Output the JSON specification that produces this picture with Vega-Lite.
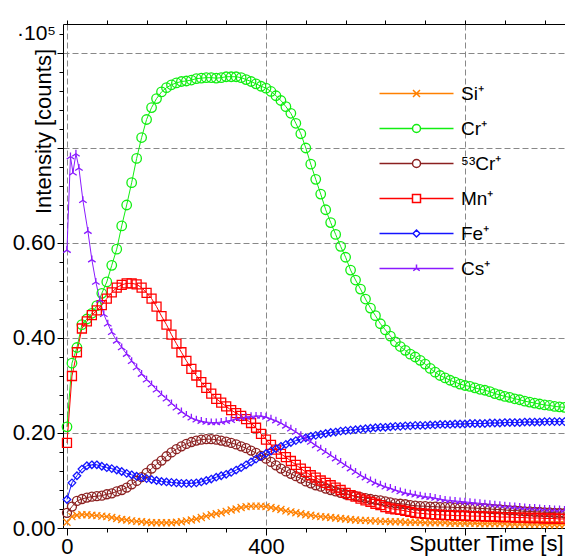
{
"$schema": "https://vega.github.io/schema/vega-lite/v6.json",
"width": 504, "height": 504,
"autosize": {"type": "none"},
"padding": {"left": 63, "top": 24, "right": 0, "bottom": 29},
"background": "white",
"title": {"text": "·10⁵", "anchor": "start", "frame": "group", "fontSize": 21, "fontWeight": "normal", "color": "black", "font": "Liberation Sans", "baseline": "alphabetic", "offset": 0, "dx": -46, "dy": 41},
"config": {
  "font": "Liberation Sans",
  "view": {"stroke": null},
  "axis": {"domainColor": "black", "tickColor": "black", "labelColor": "black", "titleColor": "black", "labelFontSize": 22, "titleFontSize": 22, "titleFontWeight": "normal", "labelFont": "Liberation Sans", "titleFont": "Liberation Sans", "gridColor": "#888888", "gridDash": [6, 3], "gridOpacity": 1, "gridWidth": 1, "domainWidth": 1, "tickWidth": 1, "labelFlush": false, "labelOverlap": false, "labelBound": false}
},
"data": {"values": [
{"s":"Si⁺","t":0,"v":0.012},{"s":"Si⁺","t":10,"v":0.024},{"s":"Si⁺","t":20,"v":0.027},{"s":"Si⁺","t":30,"v":0.028},{"s":"Si⁺","t":40,"v":0.028},{"s":"Si⁺","t":50,"v":0.027},{"s":"Si⁺","t":60,"v":0.026},{"s":"Si⁺","t":70,"v":0.025},{"s":"Si⁺","t":80,"v":0.024},{"s":"Si⁺","t":90,"v":0.022},
{"s":"Si⁺","t":100,"v":0.02},{"s":"Si⁺","t":110,"v":0.018},{"s":"Si⁺","t":120,"v":0.017},{"s":"Si⁺","t":130,"v":0.015},{"s":"Si⁺","t":140,"v":0.014},{"s":"Si⁺","t":150,"v":0.013},{"s":"Si⁺","t":160,"v":0.012},{"s":"Si⁺","t":170,"v":0.011},{"s":"Si⁺","t":180,"v":0.011},{"s":"Si⁺","t":190,"v":0.011},
{"s":"Si⁺","t":200,"v":0.011},{"s":"Si⁺","t":210,"v":0.011},{"s":"Si⁺","t":220,"v":0.012},{"s":"Si⁺","t":230,"v":0.013},{"s":"Si⁺","t":240,"v":0.015},{"s":"Si⁺","t":250,"v":0.017},{"s":"Si⁺","t":260,"v":0.019},{"s":"Si⁺","t":270,"v":0.022},{"s":"Si⁺","t":280,"v":0.025},{"s":"Si⁺","t":290,"v":0.028},
{"s":"Si⁺","t":300,"v":0.03},{"s":"Si⁺","t":310,"v":0.032},{"s":"Si⁺","t":320,"v":0.035},{"s":"Si⁺","t":330,"v":0.038},{"s":"Si⁺","t":340,"v":0.04},{"s":"Si⁺","t":350,"v":0.043},{"s":"Si⁺","t":360,"v":0.045},{"s":"Si⁺","t":370,"v":0.046},{"s":"Si⁺","t":380,"v":0.046},{"s":"Si⁺","t":390,"v":0.046},
{"s":"Si⁺","t":400,"v":0.045},{"s":"Si⁺","t":410,"v":0.043},{"s":"Si⁺","t":420,"v":0.041},{"s":"Si⁺","t":430,"v":0.039},{"s":"Si⁺","t":440,"v":0.036},{"s":"Si⁺","t":450,"v":0.034},{"s":"Si⁺","t":460,"v":0.032},{"s":"Si⁺","t":470,"v":0.03},{"s":"Si⁺","t":480,"v":0.028},{"s":"Si⁺","t":490,"v":0.027},
{"s":"Si⁺","t":500,"v":0.025},{"s":"Si⁺","t":510,"v":0.024},{"s":"Si⁺","t":520,"v":0.023},{"s":"Si⁺","t":530,"v":0.022},{"s":"Si⁺","t":540,"v":0.021},{"s":"Si⁺","t":550,"v":0.02},{"s":"Si⁺","t":560,"v":0.019},{"s":"Si⁺","t":570,"v":0.018},{"s":"Si⁺","t":580,"v":0.017},{"s":"Si⁺","t":590,"v":0.016},
{"s":"Si⁺","t":600,"v":0.016},{"s":"Si⁺","t":610,"v":0.015},{"s":"Si⁺","t":620,"v":0.015},{"s":"Si⁺","t":630,"v":0.014},{"s":"Si⁺","t":640,"v":0.014},{"s":"Si⁺","t":650,"v":0.013},{"s":"Si⁺","t":660,"v":0.013},{"s":"Si⁺","t":670,"v":0.013},{"s":"Si⁺","t":680,"v":0.012},{"s":"Si⁺","t":690,"v":0.012},
{"s":"Si⁺","t":700,"v":0.012},{"s":"Si⁺","t":710,"v":0.012},{"s":"Si⁺","t":720,"v":0.011},{"s":"Si⁺","t":730,"v":0.011},{"s":"Si⁺","t":740,"v":0.011},{"s":"Si⁺","t":750,"v":0.011},{"s":"Si⁺","t":760,"v":0.011},{"s":"Si⁺","t":770,"v":0.01},{"s":"Si⁺","t":780,"v":0.01},{"s":"Si⁺","t":790,"v":0.01},
{"s":"Si⁺","t":800,"v":0.01},{"s":"Si⁺","t":810,"v":0.01},{"s":"Si⁺","t":820,"v":0.01},{"s":"Si⁺","t":830,"v":0.009},{"s":"Si⁺","t":840,"v":0.009},{"s":"Si⁺","t":850,"v":0.009},{"s":"Si⁺","t":860,"v":0.009},{"s":"Si⁺","t":870,"v":0.009},{"s":"Si⁺","t":880,"v":0.009},{"s":"Si⁺","t":890,"v":0.008},
{"s":"Si⁺","t":900,"v":0.008},{"s":"Si⁺","t":910,"v":0.008},{"s":"Si⁺","t":920,"v":0.008},{"s":"Si⁺","t":930,"v":0.008},{"s":"Si⁺","t":940,"v":0.008},{"s":"Si⁺","t":950,"v":0.008},{"s":"Si⁺","t":960,"v":0.007},{"s":"Si⁺","t":970,"v":0.007},{"s":"Si⁺","t":980,"v":0.007},{"s":"Si⁺","t":990,"v":0.007},{"s":"Si⁺","t":1000,"v":0.007},

{"s":"Cr⁺","t":0,"v":0.213},{"s":"Cr⁺","t":10,"v":0.347},{"s":"Cr⁺","t":20,"v":0.38},{"s":"Cr⁺","t":30,"v":0.428},{"s":"Cr⁺","t":40,"v":0.44},{"s":"Cr⁺","t":50,"v":0.452},{"s":"Cr⁺","t":60,"v":0.468},{"s":"Cr⁺","t":70,"v":0.494},{"s":"Cr⁺","t":80,"v":0.518},{"s":"Cr⁺","t":90,"v":0.553},
{"s":"Cr⁺","t":100,"v":0.587},{"s":"Cr⁺","t":110,"v":0.636},{"s":"Cr⁺","t":120,"v":0.68},{"s":"Cr⁺","t":130,"v":0.727},{"s":"Cr⁺","t":140,"v":0.778},{"s":"Cr⁺","t":150,"v":0.822},{"s":"Cr⁺","t":160,"v":0.86},{"s":"Cr⁺","t":170,"v":0.885},{"s":"Cr⁺","t":180,"v":0.904},{"s":"Cr⁺","t":190,"v":0.918},
{"s":"Cr⁺","t":200,"v":0.927},{"s":"Cr⁺","t":210,"v":0.933},{"s":"Cr⁺","t":220,"v":0.937},{"s":"Cr⁺","t":230,"v":0.94},{"s":"Cr⁺","t":240,"v":0.941},{"s":"Cr⁺","t":250,"v":0.943},{"s":"Cr⁺","t":260,"v":0.946},{"s":"Cr⁺","t":270,"v":0.947},{"s":"Cr⁺","t":280,"v":0.948},{"s":"Cr⁺","t":290,"v":0.948},
{"s":"Cr⁺","t":300,"v":0.947},{"s":"Cr⁺","t":310,"v":0.948},{"s":"Cr⁺","t":320,"v":0.95},{"s":"Cr⁺","t":330,"v":0.95},{"s":"Cr⁺","t":340,"v":0.95},{"s":"Cr⁺","t":350,"v":0.948},{"s":"Cr⁺","t":360,"v":0.944},{"s":"Cr⁺","t":370,"v":0.94},{"s":"Cr⁺","t":380,"v":0.935},{"s":"Cr⁺","t":390,"v":0.93},
{"s":"Cr⁺","t":400,"v":0.926},{"s":"Cr⁺","t":410,"v":0.919},{"s":"Cr⁺","t":420,"v":0.91},{"s":"Cr⁺","t":430,"v":0.9},{"s":"Cr⁺","t":440,"v":0.887},{"s":"Cr⁺","t":450,"v":0.873},{"s":"Cr⁺","t":460,"v":0.852},{"s":"Cr⁺","t":470,"v":0.83},{"s":"Cr⁺","t":480,"v":0.8},{"s":"Cr⁺","t":490,"v":0.766},
{"s":"Cr⁺","t":500,"v":0.734},{"s":"Cr⁺","t":510,"v":0.703},{"s":"Cr⁺","t":520,"v":0.67},{"s":"Cr⁺","t":530,"v":0.643},{"s":"Cr⁺","t":540,"v":0.618},{"s":"Cr⁺","t":550,"v":0.593},{"s":"Cr⁺","t":560,"v":0.57},{"s":"Cr⁺","t":570,"v":0.543},{"s":"Cr⁺","t":580,"v":0.522},{"s":"Cr⁺","t":590,"v":0.503},
{"s":"Cr⁺","t":600,"v":0.482},{"s":"Cr⁺","t":610,"v":0.463},{"s":"Cr⁺","t":620,"v":0.447},{"s":"Cr⁺","t":630,"v":0.43},{"s":"Cr⁺","t":640,"v":0.417},{"s":"Cr⁺","t":650,"v":0.404},{"s":"Cr⁺","t":660,"v":0.392},{"s":"Cr⁺","t":670,"v":0.382},{"s":"Cr⁺","t":680,"v":0.374},{"s":"Cr⁺","t":690,"v":0.366},
{"s":"Cr⁺","t":700,"v":0.36},{"s":"Cr⁺","t":710,"v":0.353},{"s":"Cr⁺","t":720,"v":0.345},{"s":"Cr⁺","t":730,"v":0.336},{"s":"Cr⁺","t":740,"v":0.328},{"s":"Cr⁺","t":750,"v":0.321},{"s":"Cr⁺","t":760,"v":0.316},{"s":"Cr⁺","t":770,"v":0.311},{"s":"Cr⁺","t":780,"v":0.307},{"s":"Cr⁺","t":790,"v":0.303},
{"s":"Cr⁺","t":800,"v":0.3},{"s":"Cr⁺","t":810,"v":0.298},{"s":"Cr⁺","t":820,"v":0.295},{"s":"Cr⁺","t":830,"v":0.292},{"s":"Cr⁺","t":840,"v":0.29},{"s":"Cr⁺","t":850,"v":0.287},{"s":"Cr⁺","t":860,"v":0.283},{"s":"Cr⁺","t":870,"v":0.28},{"s":"Cr⁺","t":880,"v":0.277},{"s":"Cr⁺","t":890,"v":0.275},
{"s":"Cr⁺","t":900,"v":0.272},{"s":"Cr⁺","t":910,"v":0.27},{"s":"Cr⁺","t":920,"v":0.267},{"s":"Cr⁺","t":930,"v":0.265},{"s":"Cr⁺","t":940,"v":0.263},{"s":"Cr⁺","t":950,"v":0.261},{"s":"Cr⁺","t":960,"v":0.259},{"s":"Cr⁺","t":970,"v":0.258},{"s":"Cr⁺","t":980,"v":0.256},{"s":"Cr⁺","t":990,"v":0.255},{"s":"Cr⁺","t":1000,"v":0.254},

{"s":"⁵³Cr⁺","t":0,"v":0.032},{"s":"⁵³Cr⁺","t":10,"v":0.045},{"s":"⁵³Cr⁺","t":20,"v":0.057},{"s":"⁵³Cr⁺","t":30,"v":0.061},{"s":"⁵³Cr⁺","t":40,"v":0.064},{"s":"⁵³Cr⁺","t":50,"v":0.066},{"s":"⁵³Cr⁺","t":60,"v":0.067},{"s":"⁵³Cr⁺","t":70,"v":0.068},{"s":"⁵³Cr⁺","t":80,"v":0.071},{"s":"⁵³Cr⁺","t":90,"v":0.073},
{"s":"⁵³Cr⁺","t":100,"v":0.077},{"s":"⁵³Cr⁺","t":110,"v":0.08},{"s":"⁵³Cr⁺","t":120,"v":0.085},{"s":"⁵³Cr⁺","t":130,"v":0.092},{"s":"⁵³Cr⁺","t":140,"v":0.099},{"s":"⁵³Cr⁺","t":150,"v":0.107},{"s":"⁵³Cr⁺","t":160,"v":0.116},{"s":"⁵³Cr⁺","t":170,"v":0.125},{"s":"⁵³Cr⁺","t":180,"v":0.134},{"s":"⁵³Cr⁺","t":190,"v":0.142},
{"s":"⁵³Cr⁺","t":200,"v":0.151},{"s":"⁵³Cr⁺","t":210,"v":0.159},{"s":"⁵³Cr⁺","t":220,"v":0.166},{"s":"⁵³Cr⁺","t":230,"v":0.172},{"s":"⁵³Cr⁺","t":240,"v":0.177},{"s":"⁵³Cr⁺","t":250,"v":0.181},{"s":"⁵³Cr⁺","t":260,"v":0.184},{"s":"⁵³Cr⁺","t":270,"v":0.186},{"s":"⁵³Cr⁺","t":280,"v":0.187},{"s":"⁵³Cr⁺","t":290,"v":0.187},
{"s":"⁵³Cr⁺","t":300,"v":0.186},{"s":"⁵³Cr⁺","t":310,"v":0.184},{"s":"⁵³Cr⁺","t":320,"v":0.182},{"s":"⁵³Cr⁺","t":330,"v":0.179},{"s":"⁵³Cr⁺","t":340,"v":0.176},{"s":"⁵³Cr⁺","t":350,"v":0.172},{"s":"⁵³Cr⁺","t":360,"v":0.168},{"s":"⁵³Cr⁺","t":370,"v":0.163},{"s":"⁵³Cr⁺","t":380,"v":0.158},{"s":"⁵³Cr⁺","t":390,"v":0.152},
{"s":"⁵³Cr⁺","t":400,"v":0.146},{"s":"⁵³Cr⁺","t":410,"v":0.139},{"s":"⁵³Cr⁺","t":420,"v":0.132},{"s":"⁵³Cr⁺","t":430,"v":0.125},{"s":"⁵³Cr⁺","t":440,"v":0.119},{"s":"⁵³Cr⁺","t":450,"v":0.114},{"s":"⁵³Cr⁺","t":460,"v":0.109},{"s":"⁵³Cr⁺","t":470,"v":0.104},{"s":"⁵³Cr⁺","t":480,"v":0.098},{"s":"⁵³Cr⁺","t":490,"v":0.094},
{"s":"⁵³Cr⁺","t":500,"v":0.09},{"s":"⁵³Cr⁺","t":510,"v":0.087},{"s":"⁵³Cr⁺","t":520,"v":0.083},{"s":"⁵³Cr⁺","t":530,"v":0.08},{"s":"⁵³Cr⁺","t":540,"v":0.077},{"s":"⁵³Cr⁺","t":550,"v":0.074},{"s":"⁵³Cr⁺","t":560,"v":0.071},{"s":"⁵³Cr⁺","t":570,"v":0.069},{"s":"⁵³Cr⁺","t":580,"v":0.067},{"s":"⁵³Cr⁺","t":590,"v":0.065},
{"s":"⁵³Cr⁺","t":600,"v":0.063},{"s":"⁵³Cr⁺","t":610,"v":0.061},{"s":"⁵³Cr⁺","t":620,"v":0.059},{"s":"⁵³Cr⁺","t":630,"v":0.058},{"s":"⁵³Cr⁺","t":640,"v":0.056},{"s":"⁵³Cr⁺","t":650,"v":0.054},{"s":"⁵³Cr⁺","t":660,"v":0.052},{"s":"⁵³Cr⁺","t":670,"v":0.051},{"s":"⁵³Cr⁺","t":680,"v":0.05},{"s":"⁵³Cr⁺","t":690,"v":0.048},
{"s":"⁵³Cr⁺","t":700,"v":0.047},{"s":"⁵³Cr⁺","t":710,"v":0.046},{"s":"⁵³Cr⁺","t":720,"v":0.046},{"s":"⁵³Cr⁺","t":730,"v":0.045},{"s":"⁵³Cr⁺","t":740,"v":0.045},{"s":"⁵³Cr⁺","t":750,"v":0.044},{"s":"⁵³Cr⁺","t":760,"v":0.044},{"s":"⁵³Cr⁺","t":770,"v":0.044},{"s":"⁵³Cr⁺","t":780,"v":0.043},{"s":"⁵³Cr⁺","t":790,"v":0.043},
{"s":"⁵³Cr⁺","t":800,"v":0.043},{"s":"⁵³Cr⁺","t":810,"v":0.042},{"s":"⁵³Cr⁺","t":820,"v":0.042},{"s":"⁵³Cr⁺","t":830,"v":0.041},{"s":"⁵³Cr⁺","t":840,"v":0.041},{"s":"⁵³Cr⁺","t":850,"v":0.04},{"s":"⁵³Cr⁺","t":860,"v":0.039},{"s":"⁵³Cr⁺","t":870,"v":0.039},{"s":"⁵³Cr⁺","t":880,"v":0.038},{"s":"⁵³Cr⁺","t":890,"v":0.037},
{"s":"⁵³Cr⁺","t":900,"v":0.037},{"s":"⁵³Cr⁺","t":910,"v":0.036},{"s":"⁵³Cr⁺","t":920,"v":0.035},{"s":"⁵³Cr⁺","t":930,"v":0.035},{"s":"⁵³Cr⁺","t":940,"v":0.034},{"s":"⁵³Cr⁺","t":950,"v":0.034},{"s":"⁵³Cr⁺","t":960,"v":0.033},{"s":"⁵³Cr⁺","t":970,"v":0.033},{"s":"⁵³Cr⁺","t":980,"v":0.032},{"s":"⁵³Cr⁺","t":990,"v":0.032},{"s":"⁵³Cr⁺","t":1000,"v":0.031},

{"s":"Mn⁺","t":0,"v":0.179},{"s":"Mn⁺","t":10,"v":0.32},{"s":"Mn⁺","t":20,"v":0.37},{"s":"Mn⁺","t":30,"v":0.42},{"s":"Mn⁺","t":40,"v":0.435},{"s":"Mn⁺","t":50,"v":0.448},{"s":"Mn⁺","t":60,"v":0.458},{"s":"Mn⁺","t":70,"v":0.469},{"s":"Mn⁺","t":80,"v":0.483},{"s":"Mn⁺","t":90,"v":0.496},
{"s":"Mn⁺","t":100,"v":0.506},{"s":"Mn⁺","t":110,"v":0.512},{"s":"Mn⁺","t":120,"v":0.515},{"s":"Mn⁺","t":130,"v":0.515},{"s":"Mn⁺","t":140,"v":0.513},{"s":"Mn⁺","t":150,"v":0.506},{"s":"Mn⁺","t":160,"v":0.495},{"s":"Mn⁺","t":170,"v":0.483},{"s":"Mn⁺","t":180,"v":0.466},{"s":"Mn⁺","t":190,"v":0.446},
{"s":"Mn⁺","t":200,"v":0.428},{"s":"Mn⁺","t":210,"v":0.407},{"s":"Mn⁺","t":220,"v":0.388},{"s":"Mn⁺","t":230,"v":0.37},{"s":"Mn⁺","t":240,"v":0.352},{"s":"Mn⁺","t":250,"v":0.335},{"s":"Mn⁺","t":260,"v":0.321},{"s":"Mn⁺","t":270,"v":0.307},{"s":"Mn⁺","t":280,"v":0.295},{"s":"Mn⁺","t":290,"v":0.283},
{"s":"Mn⁺","t":300,"v":0.272},{"s":"Mn⁺","t":310,"v":0.264},{"s":"Mn⁺","t":320,"v":0.256},{"s":"Mn⁺","t":330,"v":0.248},{"s":"Mn⁺","t":340,"v":0.242},{"s":"Mn⁺","t":350,"v":0.236},{"s":"Mn⁺","t":360,"v":0.229},{"s":"Mn⁺","t":370,"v":0.221},{"s":"Mn⁺","t":380,"v":0.211},{"s":"Mn⁺","t":390,"v":0.198},
{"s":"Mn⁺","t":400,"v":0.186},{"s":"Mn⁺","t":410,"v":0.175},{"s":"Mn⁺","t":420,"v":0.165},{"s":"Mn⁺","t":430,"v":0.156},{"s":"Mn⁺","t":440,"v":0.149},{"s":"Mn⁺","t":450,"v":0.141},{"s":"Mn⁺","t":460,"v":0.133},{"s":"Mn⁺","t":470,"v":0.125},{"s":"Mn⁺","t":480,"v":0.118},{"s":"Mn⁺","t":490,"v":0.111},
{"s":"Mn⁺","t":500,"v":0.106},{"s":"Mn⁺","t":510,"v":0.1},{"s":"Mn⁺","t":520,"v":0.095},{"s":"Mn⁺","t":530,"v":0.09},{"s":"Mn⁺","t":540,"v":0.085},{"s":"Mn⁺","t":550,"v":0.08},{"s":"Mn⁺","t":560,"v":0.074},{"s":"Mn⁺","t":570,"v":0.069},{"s":"Mn⁺","t":580,"v":0.066},{"s":"Mn⁺","t":590,"v":0.062},
{"s":"Mn⁺","t":600,"v":0.058},{"s":"Mn⁺","t":610,"v":0.055},{"s":"Mn⁺","t":620,"v":0.051},{"s":"Mn⁺","t":630,"v":0.048},{"s":"Mn⁺","t":640,"v":0.044},{"s":"Mn⁺","t":650,"v":0.041},{"s":"Mn⁺","t":660,"v":0.039},{"s":"Mn⁺","t":670,"v":0.038},{"s":"Mn⁺","t":680,"v":0.036},{"s":"Mn⁺","t":690,"v":0.034},
{"s":"Mn⁺","t":700,"v":0.032},{"s":"Mn⁺","t":710,"v":0.031},{"s":"Mn⁺","t":720,"v":0.03},{"s":"Mn⁺","t":730,"v":0.029},{"s":"Mn⁺","t":740,"v":0.028},{"s":"Mn⁺","t":750,"v":0.028},{"s":"Mn⁺","t":760,"v":0.027},{"s":"Mn⁺","t":770,"v":0.027},{"s":"Mn⁺","t":780,"v":0.026},{"s":"Mn⁺","t":790,"v":0.026},
{"s":"Mn⁺","t":800,"v":0.026},{"s":"Mn⁺","t":810,"v":0.025},{"s":"Mn⁺","t":820,"v":0.025},{"s":"Mn⁺","t":830,"v":0.025},{"s":"Mn⁺","t":840,"v":0.024},{"s":"Mn⁺","t":850,"v":0.024},{"s":"Mn⁺","t":860,"v":0.024},{"s":"Mn⁺","t":870,"v":0.023},{"s":"Mn⁺","t":880,"v":0.023},{"s":"Mn⁺","t":890,"v":0.023},
{"s":"Mn⁺","t":900,"v":0.022},{"s":"Mn⁺","t":910,"v":0.022},{"s":"Mn⁺","t":920,"v":0.022},{"s":"Mn⁺","t":930,"v":0.021},{"s":"Mn⁺","t":940,"v":0.021},{"s":"Mn⁺","t":950,"v":0.021},{"s":"Mn⁺","t":960,"v":0.02},{"s":"Mn⁺","t":970,"v":0.02},{"s":"Mn⁺","t":980,"v":0.02},{"s":"Mn⁺","t":990,"v":0.019},{"s":"Mn⁺","t":1000,"v":0.019},

{"s":"Fe⁺","t":0,"v":0.06},{"s":"Fe⁺","t":10,"v":0.095},{"s":"Fe⁺","t":20,"v":0.11},{"s":"Fe⁺","t":30,"v":0.124},{"s":"Fe⁺","t":40,"v":0.131},{"s":"Fe⁺","t":50,"v":0.133},{"s":"Fe⁺","t":60,"v":0.133},{"s":"Fe⁺","t":70,"v":0.13},{"s":"Fe⁺","t":80,"v":0.127},{"s":"Fe⁺","t":90,"v":0.125},
{"s":"Fe⁺","t":100,"v":0.122},{"s":"Fe⁺","t":110,"v":0.119},{"s":"Fe⁺","t":120,"v":0.115},{"s":"Fe⁺","t":130,"v":0.112},{"s":"Fe⁺","t":140,"v":0.109},{"s":"Fe⁺","t":150,"v":0.106},{"s":"Fe⁺","t":160,"v":0.104},{"s":"Fe⁺","t":170,"v":0.102},{"s":"Fe⁺","t":180,"v":0.1},{"s":"Fe⁺","t":190,"v":0.098},
{"s":"Fe⁺","t":200,"v":0.097},{"s":"Fe⁺","t":210,"v":0.096},{"s":"Fe⁺","t":220,"v":0.095},{"s":"Fe⁺","t":230,"v":0.094},{"s":"Fe⁺","t":240,"v":0.094},{"s":"Fe⁺","t":250,"v":0.094},{"s":"Fe⁺","t":260,"v":0.095},{"s":"Fe⁺","t":270,"v":0.097},{"s":"Fe⁺","t":280,"v":0.1},{"s":"Fe⁺","t":290,"v":0.103},
{"s":"Fe⁺","t":300,"v":0.107},{"s":"Fe⁺","t":310,"v":0.11},{"s":"Fe⁺","t":320,"v":0.113},{"s":"Fe⁺","t":330,"v":0.117},{"s":"Fe⁺","t":340,"v":0.122},{"s":"Fe⁺","t":350,"v":0.127},{"s":"Fe⁺","t":360,"v":0.133},{"s":"Fe⁺","t":370,"v":0.139},{"s":"Fe⁺","t":380,"v":0.145},{"s":"Fe⁺","t":390,"v":0.151},
{"s":"Fe⁺","t":400,"v":0.157},{"s":"Fe⁺","t":410,"v":0.162},{"s":"Fe⁺","t":420,"v":0.167},{"s":"Fe⁺","t":430,"v":0.172},{"s":"Fe⁺","t":440,"v":0.176},{"s":"Fe⁺","t":450,"v":0.18},{"s":"Fe⁺","t":460,"v":0.184},{"s":"Fe⁺","t":470,"v":0.187},{"s":"Fe⁺","t":480,"v":0.19},{"s":"Fe⁺","t":490,"v":0.193},
{"s":"Fe⁺","t":500,"v":0.195},{"s":"Fe⁺","t":510,"v":0.197},{"s":"Fe⁺","t":520,"v":0.199},{"s":"Fe⁺","t":530,"v":0.201},{"s":"Fe⁺","t":540,"v":0.202},{"s":"Fe⁺","t":550,"v":0.204},{"s":"Fe⁺","t":560,"v":0.205},{"s":"Fe⁺","t":570,"v":0.206},{"s":"Fe⁺","t":580,"v":0.207},{"s":"Fe⁺","t":590,"v":0.208},
{"s":"Fe⁺","t":600,"v":0.209},{"s":"Fe⁺","t":610,"v":0.21},{"s":"Fe⁺","t":620,"v":0.211},{"s":"Fe⁺","t":630,"v":0.212},{"s":"Fe⁺","t":640,"v":0.212},{"s":"Fe⁺","t":650,"v":0.213},{"s":"Fe⁺","t":660,"v":0.214},{"s":"Fe⁺","t":670,"v":0.214},{"s":"Fe⁺","t":680,"v":0.215},{"s":"Fe⁺","t":690,"v":0.215},
{"s":"Fe⁺","t":700,"v":0.216},{"s":"Fe⁺","t":710,"v":0.216},{"s":"Fe⁺","t":720,"v":0.216},{"s":"Fe⁺","t":730,"v":0.217},{"s":"Fe⁺","t":740,"v":0.217},{"s":"Fe⁺","t":750,"v":0.218},{"s":"Fe⁺","t":760,"v":0.218},{"s":"Fe⁺","t":770,"v":0.218},{"s":"Fe⁺","t":780,"v":0.219},{"s":"Fe⁺","t":790,"v":0.219},
{"s":"Fe⁺","t":800,"v":0.219},{"s":"Fe⁺","t":810,"v":0.22},{"s":"Fe⁺","t":820,"v":0.22},{"s":"Fe⁺","t":830,"v":0.22},{"s":"Fe⁺","t":840,"v":0.22},{"s":"Fe⁺","t":850,"v":0.221},{"s":"Fe⁺","t":860,"v":0.221},{"s":"Fe⁺","t":870,"v":0.221},{"s":"Fe⁺","t":880,"v":0.222},{"s":"Fe⁺","t":890,"v":0.222},
{"s":"Fe⁺","t":900,"v":0.222},{"s":"Fe⁺","t":910,"v":0.222},{"s":"Fe⁺","t":920,"v":0.223},{"s":"Fe⁺","t":930,"v":0.223},{"s":"Fe⁺","t":940,"v":0.223},{"s":"Fe⁺","t":950,"v":0.223},{"s":"Fe⁺","t":960,"v":0.224},{"s":"Fe⁺","t":970,"v":0.224},{"s":"Fe⁺","t":980,"v":0.224},{"s":"Fe⁺","t":990,"v":0.224},{"s":"Fe⁺","t":1000,"v":0.224},

{"s":"Cs⁺","t":0,"v":0.585},{"s":"Cs⁺","t":7,"v":0.782},{"s":"Cs⁺","t":12,"v":0.748},{"s":"Cs⁺","t":18,"v":0.788},{"s":"Cs⁺","t":24,"v":0.758},{"s":"Cs⁺","t":32,"v":0.69},{"s":"Cs⁺","t":42,"v":0.625},{"s":"Cs⁺","t":50,"v":0.565},{"s":"Cs⁺","t":58,"v":0.518},{"s":"Cs⁺","t":66,"v":0.48},{"s":"Cs⁺","t":74,"v":0.45},{"s":"Cs⁺","t":82,"v":0.43},{"s":"Cs⁺","t":90,"v":0.412},
{"s":"Cs⁺","t":100,"v":0.394},{"s":"Cs⁺","t":110,"v":0.38},{"s":"Cs⁺","t":120,"v":0.366},{"s":"Cs⁺","t":130,"v":0.351},{"s":"Cs⁺","t":140,"v":0.338},{"s":"Cs⁺","t":150,"v":0.324},{"s":"Cs⁺","t":160,"v":0.312},{"s":"Cs⁺","t":170,"v":0.302},{"s":"Cs⁺","t":180,"v":0.291},{"s":"Cs⁺","t":190,"v":0.281},
{"s":"Cs⁺","t":200,"v":0.272},{"s":"Cs⁺","t":210,"v":0.262},{"s":"Cs⁺","t":220,"v":0.253},{"s":"Cs⁺","t":230,"v":0.245},{"s":"Cs⁺","t":240,"v":0.238},{"s":"Cs⁺","t":250,"v":0.232},{"s":"Cs⁺","t":260,"v":0.228},{"s":"Cs⁺","t":270,"v":0.225},{"s":"Cs⁺","t":280,"v":0.223},{"s":"Cs⁺","t":290,"v":0.222},
{"s":"Cs⁺","t":300,"v":0.222},{"s":"Cs⁺","t":310,"v":0.223},{"s":"Cs⁺","t":320,"v":0.225},{"s":"Cs⁺","t":330,"v":0.227},{"s":"Cs⁺","t":340,"v":0.23},{"s":"Cs⁺","t":350,"v":0.232},{"s":"Cs⁺","t":360,"v":0.234},{"s":"Cs⁺","t":370,"v":0.235},{"s":"Cs⁺","t":380,"v":0.236},{"s":"Cs⁺","t":390,"v":0.236},
{"s":"Cs⁺","t":400,"v":0.234},{"s":"Cs⁺","t":410,"v":0.23},{"s":"Cs⁺","t":420,"v":0.226},{"s":"Cs⁺","t":430,"v":0.221},{"s":"Cs⁺","t":440,"v":0.215},{"s":"Cs⁺","t":450,"v":0.209},{"s":"Cs⁺","t":460,"v":0.202},{"s":"Cs⁺","t":470,"v":0.195},{"s":"Cs⁺","t":480,"v":0.188},{"s":"Cs⁺","t":490,"v":0.181},
{"s":"Cs⁺","t":500,"v":0.174},{"s":"Cs⁺","t":510,"v":0.167},{"s":"Cs⁺","t":520,"v":0.16},{"s":"Cs⁺","t":530,"v":0.153},{"s":"Cs⁺","t":540,"v":0.146},{"s":"Cs⁺","t":550,"v":0.139},{"s":"Cs⁺","t":560,"v":0.132},{"s":"Cs⁺","t":570,"v":0.125},{"s":"Cs⁺","t":580,"v":0.118},{"s":"Cs⁺","t":590,"v":0.111},
{"s":"Cs⁺","t":600,"v":0.106},{"s":"Cs⁺","t":610,"v":0.1},{"s":"Cs⁺","t":620,"v":0.095},{"s":"Cs⁺","t":630,"v":0.091},{"s":"Cs⁺","t":640,"v":0.087},{"s":"Cs⁺","t":650,"v":0.084},{"s":"Cs⁺","t":660,"v":0.08},{"s":"Cs⁺","t":670,"v":0.077},{"s":"Cs⁺","t":680,"v":0.074},{"s":"Cs⁺","t":690,"v":0.072},
{"s":"Cs⁺","t":700,"v":0.07},{"s":"Cs⁺","t":710,"v":0.068},{"s":"Cs⁺","t":720,"v":0.066},{"s":"Cs⁺","t":730,"v":0.065},{"s":"Cs⁺","t":740,"v":0.063},{"s":"Cs⁺","t":750,"v":0.061},{"s":"Cs⁺","t":760,"v":0.059},{"s":"Cs⁺","t":770,"v":0.058},{"s":"Cs⁺","t":780,"v":0.057},{"s":"Cs⁺","t":790,"v":0.056},
{"s":"Cs⁺","t":800,"v":0.055},{"s":"Cs⁺","t":810,"v":0.054},{"s":"Cs⁺","t":820,"v":0.053},{"s":"Cs⁺","t":830,"v":0.052},{"s":"Cs⁺","t":840,"v":0.051},{"s":"Cs⁺","t":850,"v":0.05},{"s":"Cs⁺","t":860,"v":0.049},{"s":"Cs⁺","t":870,"v":0.048},{"s":"Cs⁺","t":880,"v":0.047},{"s":"Cs⁺","t":890,"v":0.046},
{"s":"Cs⁺","t":900,"v":0.045},{"s":"Cs⁺","t":910,"v":0.044},{"s":"Cs⁺","t":920,"v":0.043},{"s":"Cs⁺","t":930,"v":0.042},{"s":"Cs⁺","t":940,"v":0.042},{"s":"Cs⁺","t":950,"v":0.041},{"s":"Cs⁺","t":960,"v":0.04},{"s":"Cs⁺","t":970,"v":0.04},{"s":"Cs⁺","t":980,"v":0.039},{"s":"Cs⁺","t":990,"v":0.039},{"s":"Cs⁺","t":1000,"v":0.038}
]},
"layer": [
  {
    "mark": {"type": "line", "strokeWidth": 1},
    "encoding": {
      "x": {"field": "t", "type": "quantitative", "scale": {"domain": [-8, 1005], "nice": false, "zero": false},
        "axis": {"orient": "bottom", "values": [0, 400, 800], "tickSize": 7, "grid": true, "labelExpr": "datum.value <= 400 ? datum.label : ''", "labelBaseline": "alphabetic", "labelPadding": 18, "title": "Sputter Time [s]", "titleX": 500, "titleY": 22, "titleAlign": "right", "titleBaseline": "alphabetic", "titleAnchor": "end"}},
      "y": {"field": "v", "type": "quantitative", "scale": {"domain": [0, 1.061], "nice": false, "zero": false},
        "axis": {"orient": "left", "values": [0, 0.2, 0.4, 0.6, 0.8, 1.0], "tickSize": 6, "grid": true, "labelExpr": "datum.value < 0.7 ? format(datum.value, '.2f') : ''", "labelPadding": 2, "labelBaseline": "middle", "title": "Intensity [counts]", "titleAngle": -90, "titleX": -20, "titleY": 107, "titleAlign": "center", "titleBaseline": "middle", "titleAnchor": "middle"}},
      "color": {"field": "s", "type": "nominal", "scale": {"domain": ["Si⁺", "Cr⁺", "⁵³Cr⁺", "Mn⁺", "Fe⁺", "Cs⁺"], "range": ["#FF8000", "#11EE11", "#8B2020", "#FF0000", "#1414FF", "#8A1AFF"]}, "legend": null}
    }
  },
  {
    "mark": {"type": "point", "filled": false, "size": 100, "strokeWidth": 1.3, "opacity": 1},
    "encoding": {
      "x": {"field": "t", "type": "quantitative", "scale": {"domain": [-8, 1005], "nice": false, "zero": false},
        "axis": {"orient": "bottom", "values": [80, 160, 240, 320, 480, 560, 640, 720, 880, 960], "tickSize": 4, "labels": false, "domain": false, "grid": false, "title": null}},
      "y": {"field": "v", "type": "quantitative", "scale": {"domain": [0, 1.061], "nice": false, "zero": false},
        "axis": {"orient": "left", "values": [0.04, 0.08, 0.12, 0.16, 0.24, 0.28, 0.32, 0.36, 0.44, 0.48, 0.52, 0.56, 0.64, 0.68, 0.72, 0.76, 0.84, 0.88, 0.92, 0.96, 1.04], "tickSize": 4, "labels": false, "domain": false, "grid": false, "title": null}},
      "color": {"field": "s", "type": "nominal", "scale": {"domain": ["Si⁺", "Cr⁺", "⁵³Cr⁺", "Mn⁺", "Fe⁺", "Cs⁺"], "range": ["#FF8000", "#11EE11", "#8B2020", "#FF0000", "#1414FF", "#8A1AFF"]}, "legend": null},
      "shape": {"field": "s", "type": "nominal", "scale": {"domain": ["Si⁺", "Cr⁺", "⁵³Cr⁺", "Mn⁺", "Fe⁺", "Cs⁺"], "range": ["M-0.7,-0.7L0.7,0.7M-0.7,0.7L0.7,-0.7", "M0.95,0A0.95,0.95,0,1,1,-0.95,0A0.95,0.95,0,1,1,0.95,0", "M0.9,0A0.9,0.9,0,1,1,-0.9,0A0.9,0.9,0,1,1,0.9,0", "M-0.9,-0.9H0.9V0.9H-0.9Z", "M0,-0.75L0.75,0L0,0.75L-0.75,0Z", "M0,0V-0.8M0,0L-0.75,0.5M0,0L0.75,0.5"]}, "legend": null}
    }
  },
  {
    "transform": [{"filter": "datum.t < -100"}],
    "mark": {"type": "point", "filled": false, "size": 100, "strokeWidth": 1.5, "opacity": 1},
    "encoding": {
      "x": {"field": "t", "type": "quantitative", "scale": {"domain": [-8, 1005], "nice": false, "zero": false},
        "axis": {"orient": "top", "values": [0, 80, 160, 240, 320, 400, 480, 560, 640, 720, 800, 880, 960], "tickSize": 4, "labels": false, "domain": true, "grid": false, "title": null}},
      "y": {"field": "v", "type": "quantitative", "scale": {"domain": [0, 1.061], "nice": false, "zero": false}, "axis": null},
      "color": {"field": "s", "type": "nominal", "scale": {"domain": ["Si⁺", "Cr⁺", "⁵³Cr⁺", "Mn⁺", "Fe⁺", "Cs⁺"], "range": ["#FF8000", "#11EE11", "#8B2020", "#FF0000", "#1414FF", "#8A1AFF"]},
        "legend": {"title": null, "orient": "none", "legendX": 344, "legendY": 60, "symbolSize": 100, "symbolStrokeWidth": 1.5, "labelFontSize": 19, "labelColor": "black", "labelFont": "Liberation Sans", "labelOffset": 35, "rowPadding": 15, "padding": 0}},
      "shape": {"field": "s", "type": "nominal", "scale": {"domain": ["Si⁺", "Cr⁺", "⁵³Cr⁺", "Mn⁺", "Fe⁺", "Cs⁺"], "range": ["M-7.4,0H7.4M-0.7,-0.7L0.7,0.7M-0.7,0.7L0.7,-0.7", "M-7.4,0H-0.8M0.8,0H7.4M0.8,0A0.8,0.8,0,1,1,-0.8,0A0.8,0.8,0,1,1,0.8,0", "M-7.4,0H-0.8M0.8,0H7.4M0.8,0A0.8,0.8,0,1,1,-0.8,0A0.8,0.8,0,1,1,0.8,0Z", "M-7.4,0H-0.8M0.8,0H7.4M-0.8,-0.8H0.8V0.8H-0.8Z", "M-7.4,0H-0.7M0.7,0H7.4M0,-0.7L0.7,0L0,0.7L-0.7,0Z", "M-7.4,0H7.4M0,0V-0.8M0,0L-0.65,0.45M0,0L0.65,0.45"]},
        "legend": {"title": null, "orient": "none", "legendX": 344, "legendY": 60, "symbolSize": 100, "symbolStrokeWidth": 1.5, "labelFontSize": 19, "labelColor": "black", "labelFont": "Liberation Sans", "labelOffset": 35, "rowPadding": 15, "padding": 0}}
    }
  }
],
"resolve": {"scale": {"color": "independent", "shape": "independent"}, "axis": {"x": "independent", "y": "independent"}, "legend": {"color": "independent", "shape": "independent"}}
}
